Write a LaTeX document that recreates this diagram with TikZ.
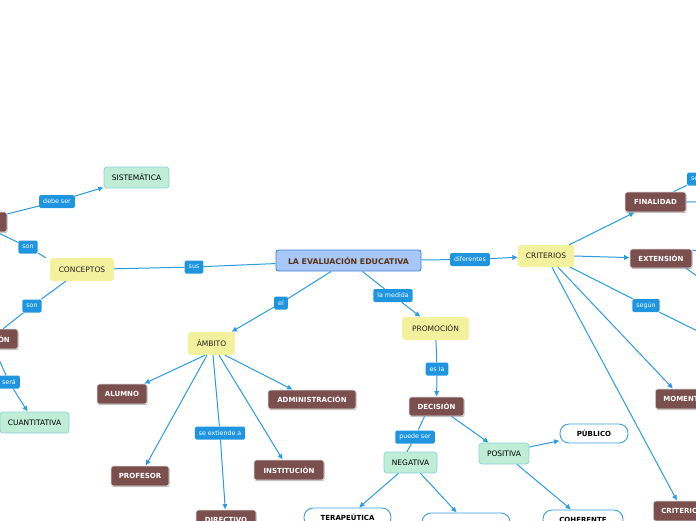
\documentclass[tikz,border=0pt]{standalone}
\usepackage{fontspec}
\setmainfont{DejaVu Sans}
\usetikzlibrary{arrows.meta,shadows}
\definecolor{lineblue}{HTML}{2B9AE0}
\definecolor{labfill}{HTML}{1F95E0}
\definecolor{brn}{HTML}{7B4F4D}
\definecolor{yel}{HTML}{F4F19E}
\definecolor{grnfill}{HTML}{BFEDD5}
\definecolor{grnline}{HTML}{8AD2DC}
\definecolor{whtline}{HTML}{3A9FE6}
\definecolor{mainfill}{HTML}{A7C8F7}
\definecolor{mainline}{HTML}{3F7FD8}
\definecolor{maintext}{HTML}{5B3212}
\definecolor{dark}{HTML}{222222}
\begin{document}
\begin{tikzpicture}[x=1pt,y=-1pt,
  mainn/.style={draw=mainline,fill=mainfill,line width=0.9pt,rounded corners=2.5pt,inner sep=0pt,text=maintext,font=\bfseries\fontsize{7.8}{9}\selectfont},
  yelbox/.style={fill=yel,rounded corners=3pt,inner sep=0pt,text=dark,font=\fontsize{7.5}{9}\selectfont},
  grnbox/.style={fill=grnfill,draw=grnline,line width=0.7pt,rounded corners=3pt,inner sep=0pt,text=black,font=\fontsize{7.5}{9}\selectfont},
  brnbox/.style={fill=brn,draw=black!12,line width=0.7pt,rounded corners=2.5pt,inner sep=0pt,text=white,font=\bfseries\fontsize{7}{8}\selectfont,
    general shadow={shadow xshift=0.6pt,shadow yshift=-1.2pt,fill=black,opacity=0.25}},
  whtbox/.style={fill=white,draw=whtline,line width=0.9pt,rounded corners=9pt,inner sep=0pt,text=black,font=\bfseries\fontsize{7}{8}\selectfont},
  lab/.style={fill=labfill,rounded corners=1.5pt,inner xsep=4pt,inner ysep=0pt,minimum height=13pt,text=white,font=\fontsize{6.3}{7}\selectfont},
  edge/.style={draw=lineblue,line width=1pt},
  arr/.style={-{Latex[length=5.5pt,width=5.5pt]}}
]
\useasboundingbox (0,0) rectangle (696,520);

% main topic
\node[mainn,minimum width=145pt,minimum height=21pt] (central) at (348.5,260.5) {LA EVALUACIÓN EDUCATIVA};

% yellow
\node[yelbox,minimum width=64pt,minimum height=23pt] (conceptos) at (82,269.5) {CONCEPTOS};
\node[yelbox,minimum width=47pt,minimum height=23pt] (ambito) at (211.5,343.5) {ÁMBITO};
\node[yelbox,minimum width=67pt,minimum height=23pt] (promocion) at (435.5,328.5) {PROMOCIÓN};
\node[yelbox,minimum width=56pt,minimum height=22pt] (criterios) at (546,256) {CRITERIOS};

% green
\node[grnbox,minimum width=65pt,minimum height=21pt] (sist) at (136.5,177.5) {SISTEMÁTICA};
\node[grnbox,minimum width=69pt,minimum height=21pt] (cuant) at (34.5,422.5) {CUANTITATIVA};
\node[grnbox,minimum width=53pt,minimum height=21pt] (negativa) at (410.5,462.5) {NEGATIVA};
\node[grnbox,minimum width=50pt,minimum height=21pt] (positiva) at (504,453.5) {POSITIVA};

% brown
\node[brnbox,minimum width=64pt,minimum height=20pt] (evall) at (-25,222) {};
\node[brnbox,minimum width=56pt,minimum height=20pt] (medic) at (-10,339) {MEDICIÓN};
\node[brnbox,minimum width=55pt,minimum height=19pt] (decision) at (436.5,406.5) {DECISIÓN};
\node[brnbox,minimum width=50pt,minimum height=20pt] (alumno) at (122,394) {ALUMNO};
\node[brnbox,minimum width=58pt,minimum height=20pt] (profesor) at (140,476) {PROFESOR};
\node[brnbox,minimum width=60pt,minimum height=20pt] (directivo) at (226,520) {DIRECTIVO};
\node[brnbox,minimum width=70pt,minimum height=20pt] (institucion) at (289,470) {INSTITUCIÓN};
\node[brnbox,minimum width=88pt,minimum height=19pt] (admin) at (312,399.5) {ADMINISTRACIÓN};
\node[brnbox,minimum width=61pt,minimum height=20pt] (finalidad) at (655.5,202) {FINALIDAD};
\node[brnbox,minimum width=62pt,minimum height=19pt] (extension) at (661,258.5) {EXTENSIÓN};
\node[brnbox,minimum height=20pt,inner xsep=8pt,anchor=west] (momento) at (655,399) {MOMENTO};
\node[brnbox,minimum height=20pt,inner xsep=8pt,anchor=west] (crit2) at (653,511) {CRITERIO};

% white
\node[whtbox,minimum width=68pt,minimum height=19pt] (publico) at (594,433.5) {PÚBLICO};
\node[whtbox,minimum width=80pt,minimum height=19pt] (coherente) at (583,519.5) {COHERENTE};
\node[whtbox,minimum width=87pt,minimum height=19pt] (tera) at (347.5,517.5) {TERAPEÚTICA};
\node[whtbox,minimum width=88pt,minimum height=19pt] (third) at (466,522.5) {};

% off-page ends
\coordinate (offse) at (760,150);
\coordinate (offfin) at (760,201);
\coordinate (offext1) at (760,246);
\coordinate (offext2) at (760,322);
\coordinate (offsegun) at (760,362);
\coordinate (offmom) at (730,470);

% label nodes
\node[lab] (lsus) at (194,267) {sus};
\node[lab] (lson1) at (28,247) {son};
\node[lab] (lson2) at (32,306) {son};
\node[lab] (ldebe) at (57,201.5) {debe ser};
\node[lab] (lsera) at (9,382) {será};
\node[lab] (lel) at (281,303) {el};
\node[lab] (lmedida) at (393,295.5) {la medida};
\node[lab] (lesla) at (437,369) {es la};
\node[lab] (lpuede) at (415,437) {puede ser};
\node[lab] (lext) at (220,433) {se extiende a};
\node[lab] (ldif) at (470,259.5) {diferentes};
\node[lab] (lsegun) at (646,305.5) {según};
\node[lab,anchor=west] (lse) at (687,179) {según};

% connectors
\draw[edge] (central) -- (lsus) -- (conceptos);
\draw[edge] ([xshift=-4pt]conceptos.north west) -- (lson1) -- (evall);
\draw[edge,arr] (evall) -- (ldebe) -- (sist);
\draw[edge] ([xshift=16pt]conceptos.south west) -- (lson2) -- (medic);
\draw[edge,arr] (medic) -- (lsera) -- (cuant);
\draw[edge,arr] (central) -- (lel) -- (ambito);
\draw[edge,arr] (central) -- (lmedida) -- (promocion);
\draw[edge,arr] (promocion) -- (lesla) -- (decision);
\draw[edge] ([xshift=-12pt]decision.south) -- (lpuede) -- ([xshift=-3.5pt]negativa.north);
\draw[edge,arr] ([xshift=15pt]decision.south) -- (positiva);
\draw[edge,arr] ([yshift=6.5pt]positiva.east) -- (publico);
\draw[edge,arr] ([xshift=13pt]positiva.south) -- (coherente);
\draw[edge,arr] ([xshift=-12pt]negativa.south) -- (tera);
\draw[edge,arr] ([xshift=10pt]negativa.south) -- (third);
\draw[edge,arr] ([xshift=-6.5pt]ambito.south) -- (alumno);
\draw[edge,arr] ([xshift=-4.5pt]ambito.south) -- (profesor);
\draw[edge,arr] ([xshift=1.5pt]ambito.south) -- (lext) -- (directivo);
\draw[edge,arr] ([xshift=7.5pt]ambito.south) -- (institucion);
\draw[edge,arr] ([xshift=13.5pt]ambito.south) -- (admin);
\draw[edge,arr] (central) -- (ldif) -- (criterios);
\draw[edge,arr] ([xshift=-5pt]criterios.north east) -- (finalidad);
\draw[edge,arr] (criterios.east) -- (extension);
\draw[edge] ([xshift=-4pt]criterios.south east) -- (lsegun) -- (offsegun);
\draw[edge,arr] ([xshift=12pt]criterios.south) -- ([xshift=18pt]momento.north west);
\draw[edge,arr] ([xshift=6pt]criterios.south) -- ([xshift=24pt]crit2.north west);
\draw[edge] ([xshift=18pt]finalidad.north) -- (lse) -- (offse);
\draw[edge] (finalidad.east) -- (offfin);
\draw[edge] ([yshift=8pt]extension.east) -- (offext1);
\draw[edge] ([xshift=-6pt]extension.south east) -- (offext2);
\draw[edge] ([xshift=-4pt]momento.south east) -- (offmom);
\end{tikzpicture}
\end{document}
